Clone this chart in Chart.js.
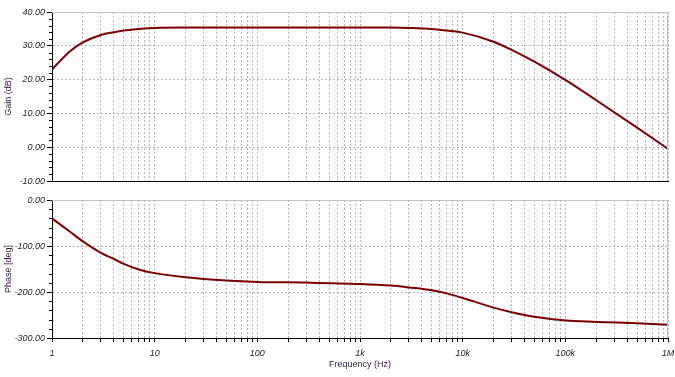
<!DOCTYPE html>
<html>
<head>
<meta charset="utf-8">
<script src="https://cdn.jsdelivr.net/npm/chart.js@4.4.0/dist/chart.umd.min.js"></script>
<style>
  html, body { margin: 0; padding: 0; background: #fff; }
  #wrap { position: relative; width: 675px; height: 377px; }
  #gainChart { position: absolute; left: 0; top: 0; }
  #phaseChart { position: absolute; left: 0; top: 190px; }
</style>
</head>
<body>
<div id="wrap">
  <canvas id="gainChart" width="675" height="190"></canvas>
  <canvas id="phaseChart" width="675" height="187"></canvas>
</div>
<script>
// Bode plot: gain and phase vs frequency (log axis)

const freqHz  = [1, 1.5, 2, 3, 4, 5, 7, 10, 20, 50, 100, 300, 1000, 2000, 3000, 5000, 7000,
                 10000, 20000, 30000, 50000, 100000, 200000, 500000, 1000000];
const gainDb  = [23.0, 28.4, 31.0, 33.2, 34.0, 34.5, 35.0, 35.3, 35.4, 35.4, 35.4, 35.4, 35.4, 35.4, 35.3, 35.0, 34.5,
                 33.9, 31.2, 28.8, 25.3, 19.9, 13.9, 5.8, -0.5];
const phaseDeg = [-40, -69, -90, -115, -128, -139, -151, -159, -168, -175, -178, -179.5, -182.5, -186, -190, -196, -203,
                  -213, -234, -244, -254, -262, -265, -268, -271];

const decadeTicks  = [1, 10, 100, 1000, 10000, 100000, 1000000];
const decadeLabels = ['1', '10', '100', '1k', '10k', '100k', '1M'];

// 1,2,...9 per decade for the dotted grid
const logTicks = [];
decadeTicks.slice(0, -1).forEach(d => { for (let m = 1; m <= 9; m++) logTicks.push(m * d); });
logTicks.push(decadeTicks[decadeTicks.length - 1]);

const gridColor  = '#b4b4b4';
const tickColor  = '#23233a';
const titleColor = '#3a1a40';
const tickFont   = { family: 'Liberation Sans, Arial, sans-serif', size: 9, style: 'italic' };
const titleFont  = { family: 'Liberation Sans, Arial, sans-serif', size: 9 };
const clear = 'rgba(0,0,0,0)';

const isMajor = (v, step) => v !== undefined && Math.abs(v / step - Math.round(v / step)) < 1e-6;

function xScale(withLabels) {
  return {
    type: 'logarithmic',
    min: 1,
    max: 1000000,
    afterBuildTicks: (s) => { s.ticks = logTicks.map(v => ({ value: v })); },
    afterFit: (s) => { s.height = withLabels ? 39 : 0; s.paddingLeft = 0; s.paddingRight = 0; },
    grid: { color: gridColor, lineWidth: 1, drawTicks: withLabels, tickLength: 4, tickColor: '#000' },
    border: { display: true, color: '#000', width: 1, dash: [2, 2] },
    ticks: {
      display: withLabels,
      autoSkip: false,
      maxRotation: 0,
      padding: 6,
      color: tickColor,
      font: tickFont,
      callback: (v) => {
        const i = decadeTicks.indexOf(v);
        return i >= 0 ? decadeLabels[i] : '';
      },
    },
    title: {
      display: withLabels,
      text: 'Frequency (Hz)',
      color: titleColor,
      font: titleFont,
      padding: { top: 0, bottom: 7 },
    },
  };
}

function yScale(min, max, step, major, title) {
  return {
    min: min,
    max: max,
    afterFit: (s) => { s.width = 52; s.paddingTop = 0; s.paddingBottom = 0; },
    grid: {
      color: (c) => isMajor(c.tick && c.tick.value, major) ? gridColor : clear,
      tickColor: (c) => isMajor(c.tick && c.tick.value, major) ? '#000' : clear,
      tickLength: 5,
    },
    border: { display: true, color: '#000', width: 1, dash: [2, 2] },
    ticks: {
      stepSize: step,
      autoSkip: false,
      padding: 2,
      color: tickColor,
      font: tickFont,
      callback: (v) => isMajor(v, major) ? v.toFixed(2) : '',
    },
    title: {
      display: true,
      text: title,
      color: titleColor,
      font: titleFont,
      padding: { top: 3, bottom: 0 },
    },
  };
}

// light frame on top/right + short minor ticks on the value axis
const framePlugin = {
  id: 'frame',
  afterDraw(chart) {
    const { ctx, chartArea: a } = chart;
    const y = chart.scales.y;
    ctx.save();
    ctx.lineWidth = 1;
    ctx.strokeStyle = '#c4c4c4';
    ctx.beginPath();
    ctx.moveTo(a.left, a.top + 0.5);
    ctx.lineTo(a.right - 0.5, a.top + 0.5);
    ctx.lineTo(a.right - 0.5, a.bottom);
    ctx.stroke();
    ctx.strokeStyle = '#000';
    y.ticks.forEach(t => {
      if (t.label) return;
      const py = Math.round(y.getPixelForValue(t.value)) + 0.5;
      ctx.beginPath();
      ctx.moveTo(a.left - 3, py);
      ctx.lineTo(a.left, py);
      ctx.stroke();
    });
    ctx.restore();
  },
};

function makeChart(id, values, label, y, withLabels, padding) {
  return new Chart(document.getElementById(id), {
    type: 'line',
    data: {
      datasets: [{
        label: label,
        data: freqHz.map((f, i) => ({ x: f, y: values[i] })),
        borderColor: '#7a0000',
        borderWidth: 2,
        pointRadius: 0,
        cubicInterpolationMode: 'monotone',
      }],
    },
    options: {
      responsive: false,
      animation: false,
      devicePixelRatio: 1,
      events: [],
      layout: { padding: padding },
      plugins: { legend: { display: false }, tooltip: { enabled: false } },
      scales: { x: xScale(withLabels), y: y },
    },
    plugins: [framePlugin],
  });
}

makeChart('gainChart', gainDb, 'Gain', yScale(-10, 40, 2, 10, 'Gain (dB)'), false,
  { left: 0, right: 7, top: 12, bottom: 9 });
makeChart('phaseChart', phaseDeg, 'Phase', yScale(-300, 0, 20, 100, 'Phase [deg]'), true,
  { left: 0, right: 7, top: 10, bottom: 0 });
</script>
</body>
</html>
